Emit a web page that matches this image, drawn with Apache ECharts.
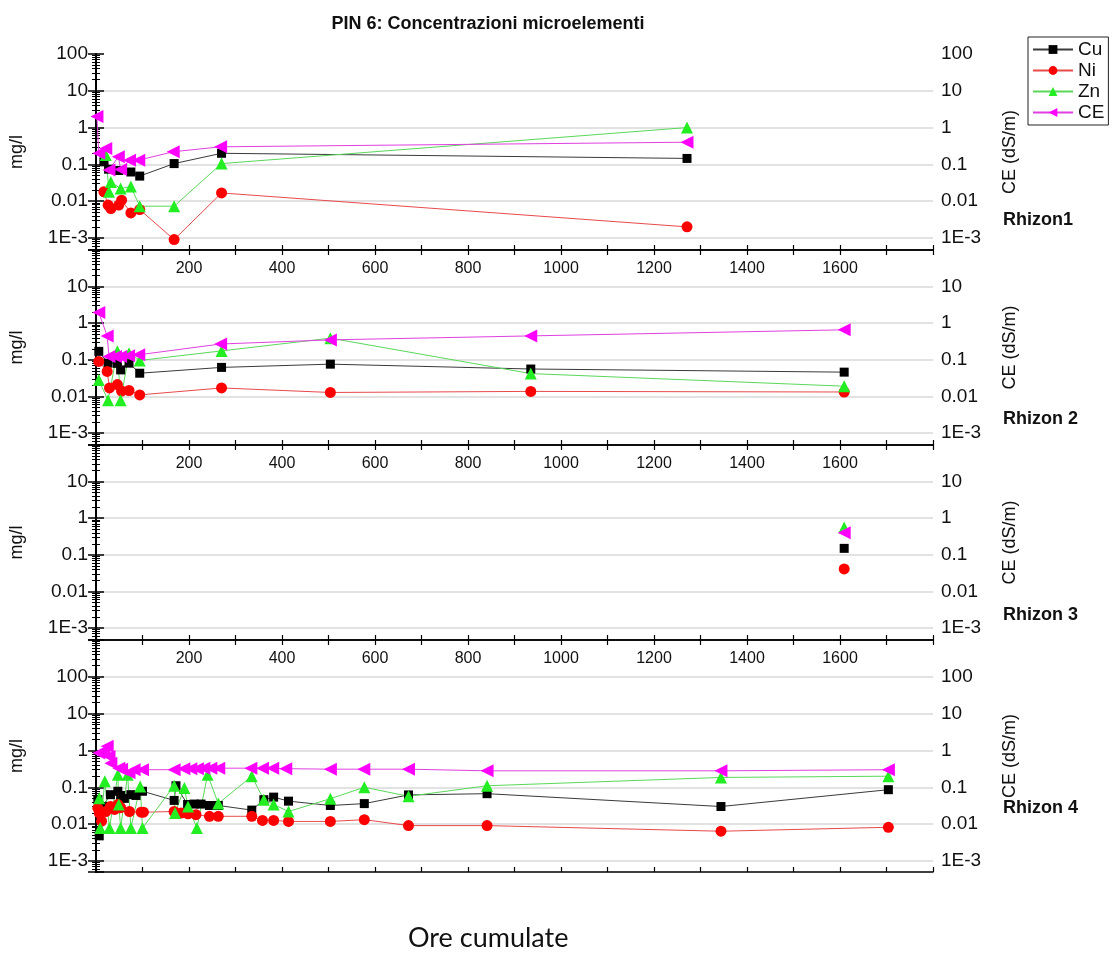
<!DOCTYPE html>
<html>
<head>
<meta charset="utf-8">
<script src="https://cdn.jsdelivr.net/npm/echarts@6/dist/echarts.min.js"></script>
<style>
  html, body { margin: 0; padding: 0; background: #fff; }
  #chart { width: 1120px; height: 961px; }
</style>
</head>
<body>
<div id="chart"></div>
<script>
// [ore cumulate, mg/l]
var rhizon1Cu = [[17,0.117],[27,0.074],[49,0.068],[75,0.062],[94,0.048],[168,0.105],[270,0.2],[1271,0.145]];
var rhizon1Ni = [[17,0.018],[26,0.0078],[32,0.0063],[49,0.0078],[55,0.0106],[75,0.0048],[94,0.0059],[168,0.0009],[270,0.0167],[1271,0.002]];
var rhizon1Zn = [[21,0.18],[28,0.018],[32,0.033],[53,0.022],[75,0.025],[94,0.0073],[168,0.0073],[270,0.105],[1271,1.0]];
var rhizon1Ce = [[2,2.0],[6,0.2],[21,0.27],[28,0.07],[48,0.16],[53,0.073],[72,0.13],[92,0.13],[166,0.22],[268,0.3],[1271,0.4]];

var rhizon2Cu = [[6,0.17],[26,0.081],[46,0.08],[53,0.053],[71,0.081],[94,0.043],[270,0.062],[504,0.076],[935,0.056],[1609,0.046]];
var rhizon2Ni = [[6,0.09],[24,0.048],[29,0.017],[46,0.021],[55,0.014],[71,0.0145],[94,0.011],[270,0.017],[504,0.0128],[935,0.0137],[1609,0.0132]];
var rhizon2Zn = [[6,0.028],[26,0.0078],[46,0.17],[53,0.0078],[71,0.15],[94,0.096],[270,0.175],[504,0.39],[935,0.042],[1609,0.019]];
var rhizon2Ce = [[6,1.95],[24,0.45],[28,0.123],[42,0.123],[53,0.123],[70,0.13],[92,0.137],[268,0.27],[504,0.35],[935,0.45],[1609,0.66]];

var rhizon3Cu = [[1609,0.15]];
var rhizon3Ni = [[1609,0.041]];
var rhizon3Zn = [[1609,0.56]];
var rhizon3Ce = [[1609,0.4]];

var rhizon4Cu = [[4,0.046],[7,0.0048],[14,0.03],[31,0.063],[47,0.078],[53,0.06],[61,0.05],[75,0.063],[86,0.06],[100,0.078],[168,0.044],[172,0.11],[197,0.034],[211,0.035],[226,0.035],[244,0.032],[263,0.032],[335,0.024],[361,0.046],[382,0.054],[414,0.042],[504,0.032],[577,0.036],[672,0.062],[841,0.067],[1344,0.03],[1704,0.086]];
var rhizon4Ni = [[4,0.027],[7,0.02],[12,0.012],[21,0.022],[31,0.03],[40,0.025],[47,0.034],[53,0.028],[72,0.022],[97,0.021],[102,0.021],[168,0.022],[183,0.02],[198,0.019],[215,0.018],[244,0.0163],[263,0.0163],[335,0.0163],[358,0.0126],[382,0.0126],[414,0.0118],[504,0.0118],[577,0.0132],[672,0.0091],[841,0.0091],[1344,0.0064],[1704,0.0082]];
var rhizon4Zn = [[7,0.05],[9,0.0078],[19,0.146],[29,0.0078],[47,0.22],[49,0.034],[53,0.0078],[68,0.22],[75,0.0078],[95,0.105],[100,0.0078],[168,0.11],[170,0.02],[190,0.096],[198,0.03],[217,0.0078],[240,0.22],[263,0.036],[335,0.2],[361,0.046],[382,0.034],[414,0.022],[504,0.049],[577,0.1],[672,0.057],[841,0.11],[1344,0.185],[1704,0.2]];
var rhizon4Ce = [[6,0.85],[17,0.95],[24,1.3],[28,0.69],[32,0.45],[49,0.33],[55,0.31],[71,0.25],[82,0.3],[100,0.3],[168,0.3],[189,0.32],[204,0.32],[218,0.32],[232,0.33],[247,0.33],[264,0.33],[333,0.33],[358,0.33],[380,0.33],[408,0.32],[504,0.31],[576,0.31],[672,0.31],[841,0.28],[1344,0.28],[1704,0.3]];

var elements = ['Cu', 'Ni', 'Zn', 'CE'];
var panelNames = ['Rhizon1', 'Rhizon 2', 'Rhizon 3', 'Rhizon 4'];
var panels = [
  [rhizon1Cu, rhizon1Ni, rhizon1Zn, rhizon1Ce],
  [rhizon2Cu, rhizon2Ni, rhizon2Zn, rhizon2Ce],
  [rhizon3Cu, rhizon3Ni, rhizon3Zn, rhizon3Ce],
  [rhizon4Cu, rhizon4Ni, rhizon4Zn, rhizon4Ce]
];
var decadeLabels = {'2': '100', '1': '10', '0': '1', '-1': '0.1', '-2': '0.01', '-3': '1E-3'};

var FONT = '"Liberation Sans", Arial, sans-serif';

// layout of the stacked panels (px)
var gridTop = [54, 250, 445, 640];
var gridHeight = [196, 195, 195, 232];
var yMin = [4.7e-4, 4.7e-4, 4.7e-4, 5e-4];
var yMax = [100, 100, 100, 1000];
var labelY = [222, 421, 617, 810];

var styles = [
  {symbol: 'rect', size: 9, color: '#000000', line: '#3a3a3a', rotate: 0},
  {symbol: 'circle', size: 11, color: '#ff0000', line: '#e84a4a', rotate: 0},
  {symbol: 'triangle', size: 12, color: '#22ee22', line: '#5ad85a', rotate: 0},
  {symbol: 'triangle', size: 13, color: '#ff00ff', line: '#e040e0', rotate: 90}
];

function yLabel(skipTop, maxV) {
  return function (v) {
    var l = Math.log10(v);
    var e = Math.round(l);
    if (Math.abs(l - e) > 0.01) return '';
    if (skipTop && Math.abs(v - maxV) / maxV < 0.01) return '';
    return decadeLabels[e] || '';
  };
}

function yAxis(i, side) {
  return {
    type: 'log', logBase: 10, gridIndex: i, position: side, min: yMin[i], max: yMax[i],
    name: side === 'left' ? 'mg/l' : 'CE (dS/m)',
    nameLocation: 'middle', nameGap: side === 'left' ? 70 : 68, nameRotate: 90,
    nameTextStyle: {fontSize: 18, color: '#111', fontFamily: FONT},
    axisLine: {show: true, lineStyle: {color: '#000', width: 2}},
    axisTick: {show: true, length: 8, lineStyle: {color: '#000', width: 1.5}},
    minorTick: {show: true, splitNumber: 9, length: 4, lineStyle: {color: '#000', width: 1}},
    axisLabel: {fontSize: 19, color: '#111', fontFamily: FONT, margin: 8,
      formatter: yLabel(i > 0, yMax[i])},
    splitLine: {show: side === 'left', showMaxLine: i !== 0, showMinLine: false,
      lineStyle: {color: '#d9d9d9', width: 1.5}}
  };
}

var grids = [], xAxes = [], yAxes = [], series = [], graphics = [];

panels.forEach(function (panel, i) {
  grids.push({left: 95, width: 838, top: gridTop[i], height: gridHeight[i]});

  // bottom axis of the panel: ticks only
  xAxes.push({
    type: 'value', gridIndex: i, position: 'bottom', min: 0, max: 1800, interval: 100,
    axisLine: {onZero: false, lineStyle: {color: '#000', width: 1.5}},
    axisTick: {inside: true, length: 5, lineStyle: {color: '#000', width: 1.2}},
    axisLabel: {show: false},
    splitLine: {show: false}
  });
  // top axis: labels drawn inside the panel
  xAxes.push({
    type: 'value', gridIndex: i, position: 'top', min: 0, max: 1800, interval: 100,
    show: i > 0,
    axisLine: {onZero: false, lineStyle: {color: '#000', width: 1.5}},
    axisTick: {inside: true, length: 5, lineStyle: {color: '#000', width: 1.2}},
    axisLabel: {
      inside: true, margin: 11, fontSize: 16, color: '#111', fontFamily: FONT,
      formatter: function (v) { return (v > 0 && v < 1800 && v % 200 === 0) ? String(v) : ''; }
    },
    splitLine: {show: false}
  });

  yAxes.push(yAxis(i, 'left'));
  yAxes.push(yAxis(i, 'right'));

  panel.forEach(function (data, k) {
    var s = styles[k];
    series.push({
      name: elements[k],
      type: 'line',
      xAxisIndex: 2 * i,
      yAxisIndex: 2 * i,
      data: data,
      symbol: s.symbol,
      symbolSize: s.size,
      symbolRotate: s.rotate,
      showAllSymbol: true,
      itemStyle: {color: s.color},
      lineStyle: {color: s.line, width: 1},
      emphasis: {disabled: true},
      animation: false
    });
  });

  graphics.push({
    type: 'text', left: 1003, top: labelY[i] - 11,
    style: {text: panelNames[i], font: 'bold 18px ' + FONT, fill: '#111'}
  });
});

graphics.push({
  type: 'text', left: 408, top: 925,
  style: {text: 'Ore cumulate', font: '27px Lato, "Open Sans", sans-serif', fill: '#111'}
});

var myChart = echarts.init(document.getElementById('chart'), null, {renderer: 'canvas'});
myChart.setOption({
  backgroundColor: '#fff',
  animation: false,
  title: {
    text: 'PIN 6: Concentrazioni microelementi',
    left: 483, top: 10, textAlign: 'center',
    textStyle: {fontSize: 18, fontWeight: 'bold', color: '#111', fontFamily: FONT}
  },
  legend: {
    data: elements,
    orient: 'vertical',
    left: 1028, top: 37,
    borderColor: '#222', borderWidth: 1,
    padding: [3, 4, 3, 4],
    itemGap: 2, itemWidth: 40, itemHeight: 11,
    textStyle: {fontSize: 19, color: '#111', fontFamily: FONT}
  },
  grid: grids,
  xAxis: xAxes,
  yAxis: yAxes,
  series: series,
  graphic: graphics
});
</script>
</body>
</html>
